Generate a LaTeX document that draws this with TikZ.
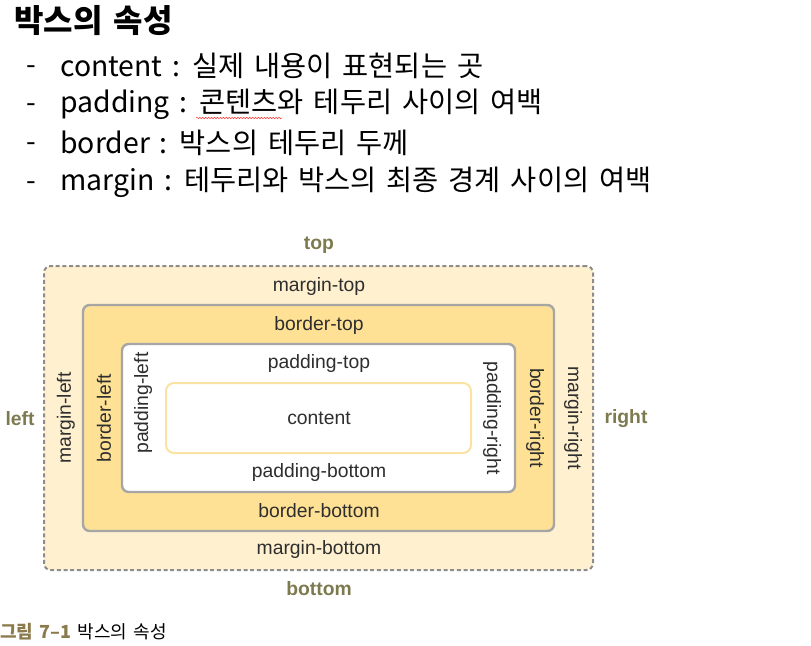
\documentclass[tikz,border=0pt]{standalone}
\usepackage{fontspec}
\setmainfont{Noto Sans CJK KR}[WordSpace=1.55]
\newfontfamily\labelfont{Liberation Sans}
\usetikzlibrary{positioning, decorations.pathmorphing}
\usepackage{xcolor}

\definecolor{marginfill}{HTML}{FFF0D0}
\definecolor{borderfill}{HTML}{FEE195}
\definecolor{edgegray}{HTML}{A6A6A6}
\definecolor{dashgray}{HTML}{8C8C8C}
\definecolor{contentedge}{HTML}{FAE3A2}
\definecolor{sidetext}{HTML}{7E7A50}
\definecolor{captiontext}{HTML}{8A7A4C}

\begin{document}
\begin{tikzpicture}[
        % one unit = one pixel of the reference, y grows downwards
        x=0.75pt, y=-0.75pt,
        % Styles for the nested boxes
        boxbase/.style={rectangle, rounded corners=5pt, inner sep=0pt},
        marginbox/.style={boxbase, draw=dashgray, fill=marginfill, line width=1.5pt, dash pattern=on 3pt off 2pt},
        borderbox/.style={boxbase, draw=edgegray, fill=borderfill, line width=1.8pt},
        paddingbox/.style={boxbase, draw=edgegray, fill=white, line width=1.8pt},
        contentbox/.style={boxbase, draw=contentedge, fill=white, line width=1.5pt, rounded corners=6pt},
        % Styles for the texts
        boxlabel/.style={font=\labelfont\fontsize{14.5}{17}\selectfont, text=black!82, inner sep=0pt},
        sidelabel/.style={font=\labelfont\bfseries\fontsize{14.5}{17}\selectfont, text=sidetext, inner sep=0pt},
        itemtext/.style={font=\fontsize{21.3}{25}\selectfont, anchor=west, inner sep=0pt},
        itemdash/.style={font=\fontsize{21}{25}\selectfont, inner sep=0pt}
    ]
    \useasboundingbox (0,0) rectangle (811,646);

    % --- TITLE AND LIST ---
    \node (title) [anchor=west, inner sep=0pt, font=\bfseries\fontsize{24}{28}\selectfont] at (14,21) {박스의 속성};

    \node (dash1) [itemdash] at (31,70) {-};
    \node (item1) [itemtext] at (60,66) {content : 실제 내용이 표현되는 곳};
    \node (dash2) [itemdash] at (31,108) {-};
    \node (item2) [itemtext] at (60,104) {padding : 콘텐츠와 테두리 사이의 여백};
    \node (dash3) [itemdash] at (31,147) {-};
    \node (item3) [itemtext] at (60,143) {border : 박스의 테두리 두께};
    \node (dash4) [itemdash] at (31,186) {-};
    \node (item4) [itemtext] at (60,182) {margin : 테두리와 박스의 최종 경계 사이의 여백};
    \draw [red!80, line width=0.4pt, decorate, decoration={snake, amplitude=0.5pt, segment length=2.2pt}] (196,118) -- (282,118);

    % --- NESTED BOXES ---
    \node (margin) [marginbox, minimum width=549*0.75pt, minimum height=304*0.75pt] at (318.5,418) {};
    \node (border) [borderbox, minimum width=471*0.75pt, minimum height=226*0.75pt] at (318.5,418) {};
    \node (padding) [paddingbox, minimum width=393*0.75pt, minimum height=148*0.75pt] at (318.5,418) {};
    \node (content) [contentbox, minimum width=305*0.75pt, minimum height=70*0.75pt] at (318.5,418) {};

    % --- SIDES ---
    \node (top) [sidelabel] at (319,245) {top};
    \node (bottom) [sidelabel] at (319,589) {bottom};
    \node (left) [sidelabel] at (20,419) {left};
    \node (right) [sidelabel] at (626,419) {right};

    % --- BOX LABELS ---
    \node (margintop) [boxlabel] at (319,286) {margin-top};
    \node (bordertop) [boxlabel] at (319,325) {border-top};
    \node (paddingtop) [boxlabel] at (319,363) {padding-top};
    \node (contentlabel) [boxlabel] at (319,418) {content};
    \node (paddingbottom) [boxlabel] at (319,472) {padding-bottom};
    \node (borderbottom) [boxlabel] at (319,511) {border-bottom};
    \node (marginbottom) [boxlabel] at (319,549) {margin-bottom};

    \node (marginleft) [boxlabel, rotate=90] at (66,418) {margin-left};
    \node (borderleft) [boxlabel, rotate=90] at (104,418) {border-left};
    \node (paddingleft) [boxlabel, rotate=90] at (143,403) {padding-left};
    \node (paddingright) [boxlabel, rotate=-90] at (492,418) {padding-right};
    \node (borderright) [boxlabel, rotate=-90] at (535,418) {border-right};
    \node (marginright) [boxlabel, rotate=-90] at (573,418) {margin-right};

    % --- CAPTION ---
    \node (caption) [anchor=west, inner sep=0pt, font=\fontsize{13.5}{16}\selectfont] at (0,632) {\textcolor{captiontext}{\bfseries 그림 7–1}\ 박스의 속성};

\end{tikzpicture}
\end{document}
